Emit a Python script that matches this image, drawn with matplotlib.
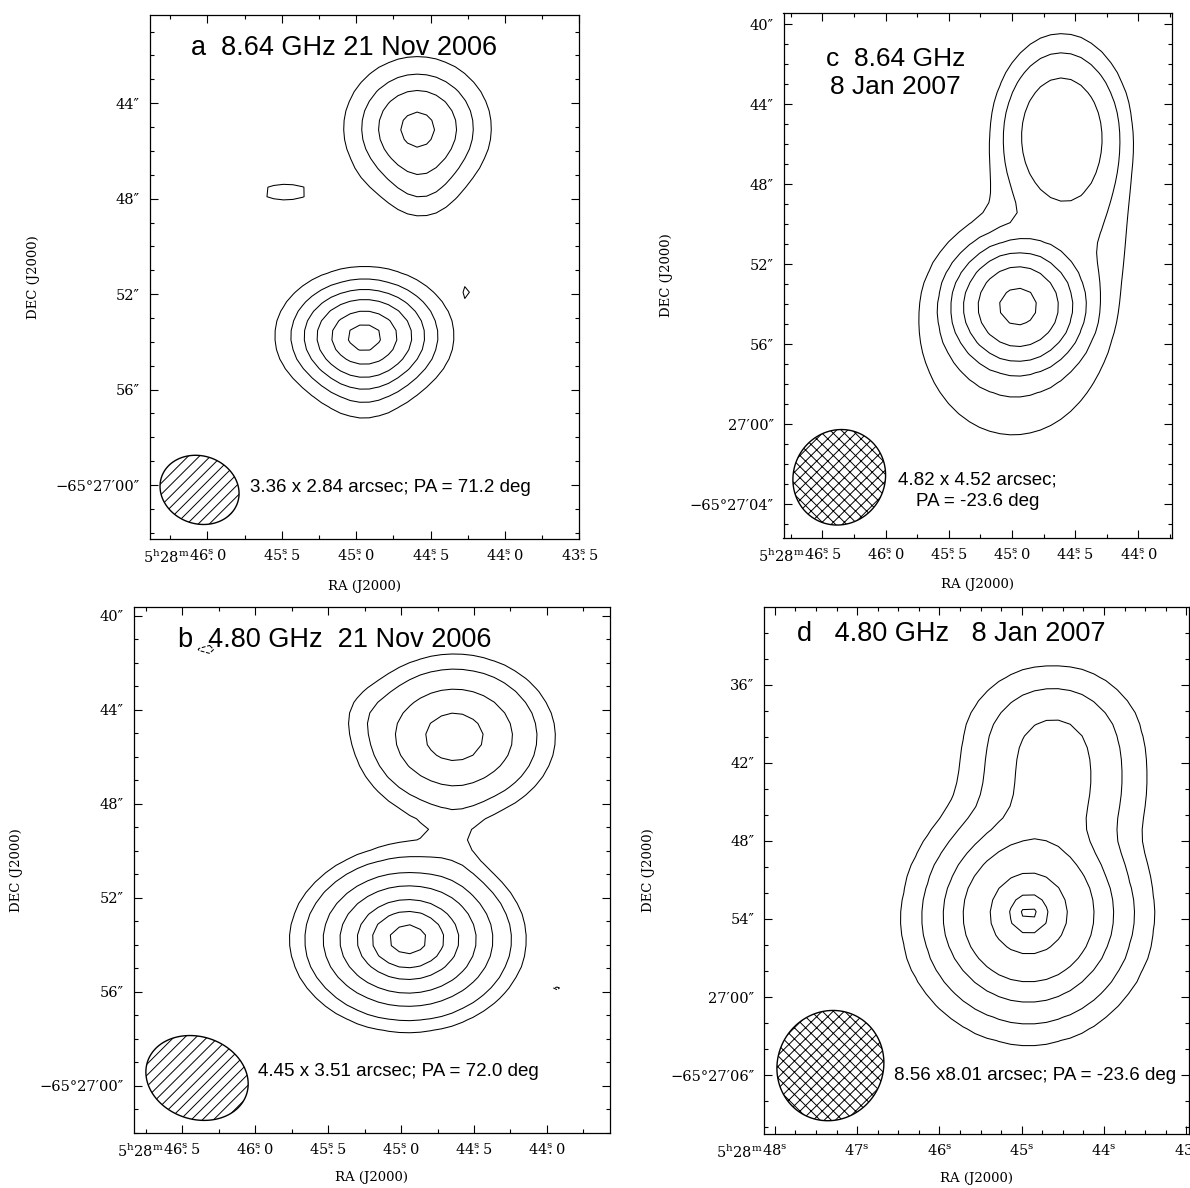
import numpy as np
import matplotlib
matplotlib.use("Agg")
import matplotlib.pyplot as plt
from matplotlib.patches import Polygon
from matplotlib.ticker import FixedLocator, MultipleLocator

plt.rcParams['font.family'] = ['DejaVu Serif', 'DejaVu Sans']
plt.rcParams['mathtext.fontset'] = 'dejavuserif'
plt.rcParams['hatch.linewidth'] = 0.7

SANS = ['Liberation Sans', 'DejaVu Sans']

# arcsec per second of RA at dec -65.45
S2AS = 15.0 * np.cos(np.radians(65.45))

# dec values are arcsec south of -65d26m00s (60 -> -65d27m00s)
PRE = r"$5^{\rm h}28^{\rm m}$"

# --- a: 8.64 GHz, 21 Nov 2006
levels_a = [10, 21, 35, 52, 73, 92]
# (ra_s, dec_as, peak, sigma_x, sigma_y)
src_a = [
    (44.945, 53.75, 98.0, 1.75, 1.35),
    (44.95, 56.0, 10.0, 1.2, 1.2),
    (44.588, 45.05, 57.0, 1.65, 1.6),
    (44.56, 47.7, 10.0, 1.0, 1.0),
    (45.48, 47.73, 12.0, 1.5, 0.58),
    (44.243, 51.84, 11.5, 0.25, 0.55),
]
beam_a = (3.36, 2.84, 71.2)
beam_pos_a = (46.053, 60.2)
ra_ticks_a = [46.0, 45.5, 45.0, 44.5, 44.0, 43.5]
ra_labels_a = ["46.0", "45.5", "45.0", "44.5", "44.0", "43.5"]
dec_ticks_a = [44, 48, 52, 56, 60]
dec_labels_a = ["44\u2033", "48\u2033", "52\u2033", "56\u2033", "\u221265\u00b027\u203200\u2033"]

# --- b: 4.80 GHz, 21 Nov 2006
levels_b = [9, 16, 29, 45, 64, 80, 94]
src_b = [
    (44.952, 53.78, 100.0, 2.3, 1.8),
    (44.635, 45.15, 52.0, 2.3, 1.87),
    (44.62, 49.5, 3.0, 0.75, 1.6),
    (45.25, 44.1, 3.0, 0.8, 0.8),
    (46.335, 41.43, -12.0, 0.45, 0.35),
    (43.95, 55.95, -12.0, 0.55, 0.3),
]
beam_b = (4.45, 3.51, 72.0)
beam_pos_b = (46.398, 59.67)
ra_ticks_b = [46.5, 46.0, 45.5, 45.0, 44.5, 44.0]
ra_labels_b = ["46.5", "46.0", "45.5", "45.0", "44.5", "44.0"]
dec_ticks_b = [40, 44, 48, 52, 56, 60]
dec_labels_b = ["40\u2033", "44\u2033", "48\u2033", "52\u2033", "56\u2033",
                "\u221265\u00b027\u203200\u2033"]

# --- c: 8.64 GHz, 8 Jan 2007
levels_c = [3, 6, 12, 24, 48, 96]
src_c = [
    (44.95, 54.1, 110.0, 1.41, 1.41),
    (44.99, 55.2, 8.0, 3.2, 3.8),
    (44.607, 45.5, 22.5, 1.72, 2.5),
    (44.35, 50.5, 2.8, 1.5, 2.5),
]
beam_c = (4.82, 4.52, -23.6)
beam_pos_c = (46.366, 62.65)
ra_ticks_c = [46.5, 46.0, 45.5, 45.0, 44.5, 44.0]
ra_labels_c = ra_labels_b
dec_ticks_c = [40, 44, 48, 52, 56, 60, 64]
dec_labels_c = ["40\u2033", "44\u2033", "48\u2033", "52\u2033", "56\u2033",
                "27\u203200\u2033", "\u221265\u00b027\u203204\u2033"]

# --- d: 4.80 GHz, 8 Jan 2007
levels_d = [1.6, 5.6, 15.6, 33, 68, 91, 98.6]
src_d = [
    (44.91, 53.6, 100.0, 3.3, 3.5),
    (45.6, 55.5, 1.5, 3.0, 3.0),
    (44.62, 40.2, 17.0, 3.0, 2.6),
    (44.60, 44.6, 17.0, 3.0, 2.6),
]
beam_d = (8.56, 8.01, -23.6)
beam_pos_d = (47.325, 65.27)
ra_ticks_d = [48, 47, 46, 45, 44, 43]
ra_labels_d = ["48", "47", "46", "45", "44", "43"]
dec_ticks_d = [36, 42, 48, 54, 60, 66]
dec_labels_d = ["36\u2033", "42\u2033", "48\u2033", "54\u2033",
                "27\u203200\u2033", "\u221265\u00b027\u203206\u2033"]

W, H = 1190, 1188
fig = plt.figure(figsize=(W / 100, H / 100), dpi=100)


def ra_fmt(labels):
    # seconds with the "s" set over the decimal point
    out = []
    for lab in labels:
        if "." in lab:
            whole, frac = lab.split(".")
            out.append("$" + whole + r"^{\rm s}\!\!." + frac + "$")
        else:
            out.append("$" + lab + r"^{\rm s}$")
    return out


def sky_grid(xlim, ylim, cell):
    ra = np.arange(min(xlim), max(xlim) + cell / S2AS, cell / S2AS)
    dec = np.arange(min(ylim), max(ylim) + cell, cell)
    return np.meshgrid(ra, dec)


def brightness(ra, dec, comps):
    img = np.zeros_like(ra)
    for ra0, dec0, peak, sx, sy in comps:
        dx = (ra - ra0) * S2AS
        dy = dec - dec0
        img += peak * np.exp(-0.5 * ((dx / sx) ** 2 + (dy / sy) ** 2))
    return img


def draw_beam(ax, pos, beam, hatch):
    bmaj, bmin, pa = beam
    t = np.linspace(0, 2 * np.pi, 240)
    u = 0.5 * bmaj * np.cos(t)
    v = 0.5 * bmin * np.sin(t)
    th = np.radians(pa)
    east = u * np.sin(th) + v * np.cos(th)
    north = u * np.cos(th) - v * np.sin(th)
    pts = np.column_stack([pos[0] + east / S2AS, pos[1] - north])
    ax.add_patch(Polygon(pts, closed=True, facecolor='none', edgecolor='k',
                         lw=1.0, hatch=hatch))


def panel(box, xlim, ylim, src, levels, cell, beam, beam_pos, hatch,
          ra_ticks, ra_labels, ra_minor, dec_ticks, dec_labels, dec_minor,
          dec_label_x, ra_label_y, pre_shift):
    left, top, right, bottom = box
    ax = fig.add_axes([left / W, 1 - bottom / H, (right - left) / W, (bottom - top) / H])
    RA, DEC = sky_grid(xlim, ylim, cell)
    img = brightness(RA, DEC, src)
    ax.contour(RA, DEC, img, levels=levels, colors='k', linewidths=0.75)
    neg = [-levels[0]]
    if img.min() < neg[0]:
        ax.contour(RA, DEC, img, levels=neg, colors='k', linewidths=0.75,
                   linestyles='dashed')
    draw_beam(ax, beam_pos, beam, hatch)
    ax.set_xlim(xlim)
    ax.set_ylim(ylim)

    ax.xaxis.set_major_locator(FixedLocator(ra_ticks))
    ax.set_xticklabels(ra_fmt(ra_labels))
    ax.xaxis.set_minor_locator(MultipleLocator(ra_minor))
    ax.yaxis.set_major_locator(FixedLocator(dec_ticks))
    ax.set_yticklabels(dec_labels)
    ax.yaxis.set_minor_locator(MultipleLocator(dec_minor))
    ax.tick_params(which='both', direction='in', top=True, right=True,
                   width=0.8, labelsize=10.5, pad=7)
    ax.tick_params(which='major', length=5.5)
    ax.tick_params(which='minor', length=3)
    for s in ax.spines.values():
        s.set_linewidth(0.9)
    # hours and minutes in front of the first RA label
    ax.annotate(PRE, xy=(ra_ticks[0], 0), xycoords=('data', 'axes fraction'),
                xytext=(-pre_shift, -7), textcoords='offset points',
                ha='right', va='top', fontsize=10.5)
    ax.text(0.5, ra_label_y, "RA (J2000)", transform=ax.transAxes,
            ha='center', va='center', fontsize=9.5)
    ax.text(dec_label_x, 0.5, "DEC (J2000)", transform=ax.transAxes,
            ha='center', va='center', rotation=90, fontsize=9.5)
    return ax


ax_a = panel((149.7, 15.3, 579.4, 539.3), (46.388, 43.5), (62.27, 40.32),
             src_a, levels_a, 0.4, beam_a, beam_pos_a, '///',
             ra_ticks_a, ra_labels_a, 0.25, dec_ticks_a, dec_labels_a, 1,
             -0.27, -0.09, 13)
ax_a.text(0.095, 0.938, "a  8.64 GHz 21 Nov 2006", transform=ax_a.transAxes,
          family=SANS, fontsize=19.5, ha='left', va='center')
ax_a.text(0.234, 0.099, "3.36 x 2.84 arcsec; PA = 71.2 deg", transform=ax_a.transAxes,
          family=SANS, fontsize=13.5, ha='left', va='center')

ax_c = panel((783.5, 12.6, 1172.3, 538.3), (46.807, 43.731), (65.70, 39.42),
             src_c, levels_c, 0.5, beam_c, beam_pos_c, 'xxx',
             ra_ticks_c, ra_labels_c, 0.25, dec_ticks_c, dec_labels_c, 1,
             -0.30, -0.088, 13)
ax_c.text(0.289, 0.885, "c  8.64 GHz\n8 Jan 2007", transform=ax_c.transAxes,
          family=SANS, fontsize=19, ha='center', va='center', linespacing=1.25)
ax_c.text(0.4985, 0.09, "4.82 x 4.52 arcsec;\nPA = -23.6 deg", transform=ax_c.transAxes,
          family=SANS, fontsize=13.5, ha='center', va='center', linespacing=1.35)

ax_b = panel((133.7, 607.2, 610, 1133.2), (46.832, 43.568), (62.02, 39.64),
             src_b, levels_b, 0.45, beam_b, beam_pos_b, '///',
             ra_ticks_b, ra_labels_b, 0.25, dec_ticks_b, dec_labels_b, 1,
             -0.247, -0.085, 13)
ax_b.text(0.092, 0.938, "b  4.80 GHz  21 Nov 2006", transform=ax_b.transAxes,
          family=SANS, fontsize=19.5, ha='left', va='center')
ax_b.text(0.26, 0.118, "4.45 x 3.51 arcsec; PA = 72.0 deg", transform=ax_b.transAxes,
          family=SANS, fontsize=13.5, ha='left', va='center')

ax_d = panel((764, 607.2, 1189, 1133.9), (48.132, 42.967), (70.52, 30.04),
             src_d, levels_d, 0.9, beam_d, beam_pos_d, 'xxx',
             ra_ticks_d, ra_labels_d, 0.25, dec_ticks_d, dec_labels_d, 2,
             -0.272, -0.084, 8.5)
ax_d.text(0.077, 0.949, "d   4.80 GHz   8 Jan 2007", transform=ax_d.transAxes,
          family=SANS, fontsize=19.5, ha='left', va='center')
ax_d.text(0.305, 0.11, "8.56 x8.01 arcsec; PA = -23.6 deg", transform=ax_d.transAxes,
          family=SANS, fontsize=13.5, ha='left', va='center')

fig.savefig("out.png", dpi=100)
